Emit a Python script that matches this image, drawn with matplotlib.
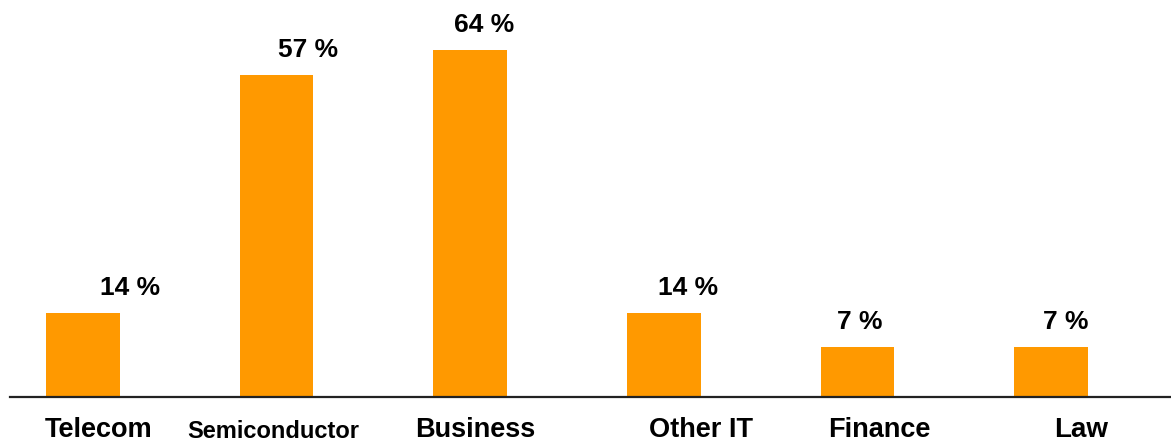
import matplotlib
matplotlib.use("Agg")
import matplotlib.pyplot as plt
import matplotlib.transforms as mtransforms

categories = ["Telecom", "Semiconductor", "Business", "Other IT", "Finance", "Law"]
share_labels = ["14 %", "57 %", "64 %", "14 %", "7 %", "7 %"]
# bar heights as drawn in the picture (percent units)
bar_heights = [15.5, 59.4, 64.0, 15.5, 9.2, 9.2]

# presentation offsets (pixels) of the text relative to bar centres
value_dx_px = [47, 31, 14, 24, 2, 15]
cat_dx_px = [16, -3, 5, 37, 22, 30]
cat_sizes = [19.5, 17, 19.5, 19.5, 19.5, 20]
cat_base_px = [6, 5, 6, 6, 6, 6]

plt.rcParams["font.family"] = ["Liberation Sans", "DejaVu Sans"]

W, H = 1171, 443
fig = plt.figure(figsize=(W / 100, H / 100), dpi=100)
ax = fig.add_axes([10 / W, 46 / H, 1161 / W, 397 / H])

x = list(range(len(categories)))
bars = ax.bar(x, bar_heights, width=0.38, color="#FF9900", zorder=2)

ax.set_xlim(-0.377, 5.62)
ax.set_ylim(0, 73.25)
for s in ["top", "right", "left"]:
    ax.spines[s].set_visible(False)
ax.spines["bottom"].set_linewidth(1.6)
ax.spines["bottom"].set_color("#222222")
ax.set_xticks([])
ax.set_yticks([])

px_to_pt = 72 / 100
for xi, h, lab, dx in zip(x, bar_heights, share_labels, value_dx_px):
    ax.annotate(lab, (xi, h), xytext=(dx * px_to_pt, 18 * px_to_pt),
                textcoords="offset points", ha="center", va="baseline",
                fontsize=19, fontweight="bold", color="black")

trans = mtransforms.blended_transform_factory(ax.transData, fig.transFigure)
for xi, cat, dx, fs, yb in zip(x, categories, cat_dx_px, cat_sizes, cat_base_px):
    ax.text(xi + dx / 193.6, yb / H, cat, transform=trans, ha="center",
            va="baseline", fontsize=fs, fontweight="bold", color="black")

fig.savefig("out.png", dpi=100)
